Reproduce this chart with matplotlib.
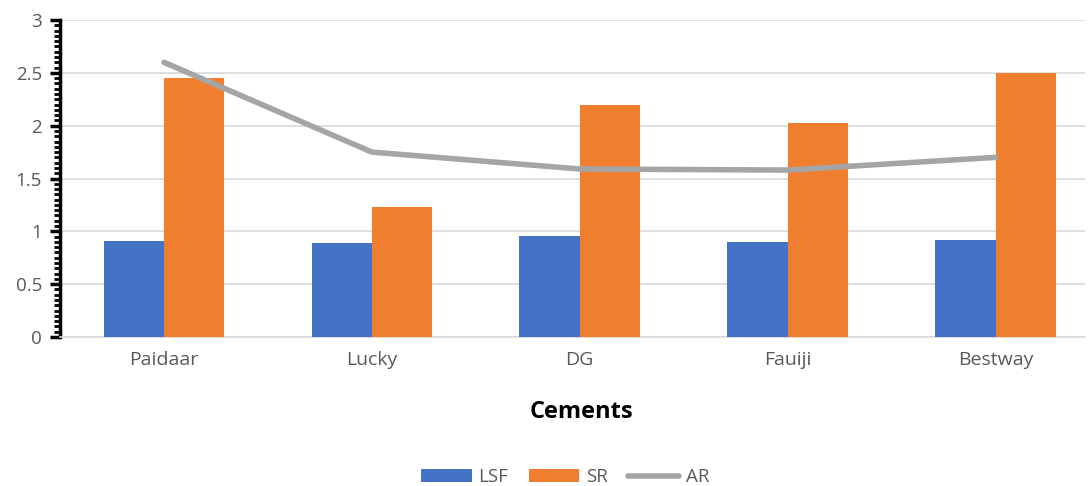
import matplotlib
matplotlib.use("Agg")
import matplotlib.pyplot as plt
import numpy as np
from matplotlib.ticker import MultipleLocator

categories = ["Paidaar", "Lucky", "DG", "Fauiji", "Bestway"]
lsf = [0.91, 0.89, 0.96, 0.90, 0.92]
sr = [2.45, 1.23, 2.20, 2.03, 2.50]
ar = [2.60, 1.75, 1.59, 1.58, 1.70]

plt.rcParams['font.family'] = ['Open Sans', 'DejaVu Sans']

fig = plt.figure(figsize=(10.91, 4.86), dpi=100)
ax = fig.add_axes([0.055, 0.3066, 0.9395, 0.6522])

x = np.arange(len(categories))
w = 0.29
b1 = ax.bar(x - w/2, lsf, w, color="#4472C4", label="LSF", zorder=3)
b2 = ax.bar(x + w/2, sr, w, color="#F07E2E", label="SR", zorder=3)
l1, = ax.plot(x, ar, color="#A5A5A5", lw=4, label="AR", zorder=4, solid_capstyle='round')

ax.set_xlim(-0.5, 4.43)
ax.set_ylim(0, 3)
ax.yaxis.set_minor_locator(MultipleLocator(0.05))
ax.set_yticks([0, 0.5, 1, 1.5, 2, 2.5, 3])
ax.set_yticklabels(["0", "0.5", "1", "1.5", "2", "2.5", "3"])
ax.set_xticks(x)
ax.set_xticklabels(categories)
ax.grid(axis='y', color="#D9D9D9", lw=1.2, zorder=0)
for s in ["top", "right"]:
    ax.spines[s].set_visible(False)
ax.spines["bottom"].set_color("#D9D9D9")
ax.spines["bottom"].set_linewidth(1.2)
ax.spines["left"].set_color("black")
ax.spines["left"].set_linewidth(2.5)
ax.tick_params(axis='y', which='major', length=7, width=2.5, color='black',
               labelsize=13.5, labelcolor="#595959", pad=6)
ax.tick_params(axis='y', which='minor', length=4, width=2.0, color='black')
ax.tick_params(axis='x', length=0, labelsize=14, labelcolor="#595959", pad=10)

ax.set_xlabel("Cements", fontsize=17, fontweight='bold', color='black')
ax.xaxis.set_label_coords(0.509, -0.2)

fig.legend([b1, b2, l1], ["LSF", "SR", "AR"], loc='lower center',
           bbox_to_anchor=(0.518, -0.035), ncol=3, frameon=False,
           fontsize=13.5, handlelength=2.7, handleheight=0.7, columnspacing=1.1,
           labelcolor="#595959", handletextpad=0.35)

fig.savefig("out.png", dpi=100)
